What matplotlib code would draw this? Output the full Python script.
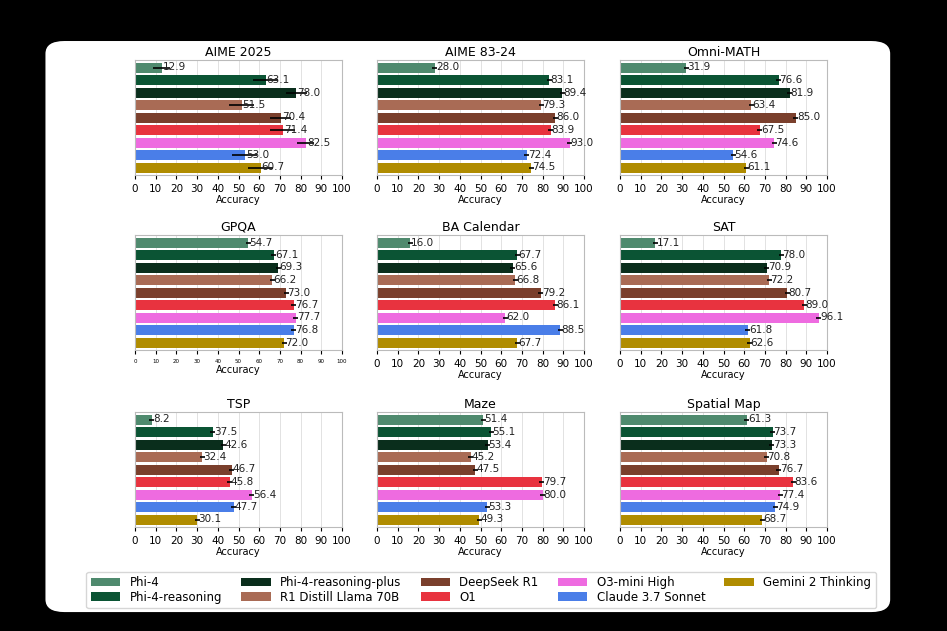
import numpy as np
import matplotlib.pyplot as plt
from matplotlib.patches import FancyBboxPatch, Patch

models = ["Phi-4", "Phi-4-reasoning", "Phi-4-reasoning-plus", "R1 Distill Llama 70B",
          "DeepSeek R1", "O1", "O3-mini High", "Claude 3.7 Sonnet", "Gemini 2 Thinking"]
colors = ["#4f8a6e", "#0b5434", "#0a2e1c", "#a96b55", "#7a3f2c",
          "#e8333f", "#ee6be0", "#4a7ee8", "#b08c00"]

titles = ["AIME 2025", "AIME 83-24", "Omni-MATH", "GPQA", "BA Calendar", "SAT",
          "TSP", "Maze", "Spatial Map"]
aime25 = [12.9, 63.1, 78.0, 51.5, 70.4, 71.4, 82.5, 53.0, 60.7]
aime8324 = [28.0, 83.1, 89.4, 79.3, 86.0, 83.9, 93.0, 72.4, 74.5]
omni = [31.9, 76.6, 81.9, 63.4, 85.0, 67.5, 74.6, 54.6, 61.1]
gpqa = [54.7, 67.1, 69.3, 66.2, 73.0, 76.7, 77.7, 76.8, 72.0]
bacal = [16.0, 67.7, 65.6, 66.8, 79.2, 86.1, 62.0, 88.5, 67.7]
sat = [17.1, 78.0, 70.9, 72.2, 80.7, 89.0, 96.1, 61.8, 62.6]
tsp = [8.2, 37.5, 42.6, 32.4, 46.7, 45.8, 56.4, 47.7, 30.1]
maze = [51.4, 55.1, 53.4, 45.2, 47.5, 79.7, 80.0, 53.3, 49.3]
spatial = [61.3, 73.7, 73.3, 70.8, 76.7, 83.6, 77.4, 74.9, 68.7]
values = [aime25, aime8324, omni, gpqa, bacal, sat, tsp, maze, spatial]

err25 = [4, 6, 5, 6, 5, 6, 4, 6, 6]
err_small = [1.2] * 9

fig = plt.figure(figsize=(9.47, 6.31), dpi=100, facecolor="black")
bg = FancyBboxPatch((0.048, 0.03), 0.892, 0.905, boxstyle="round,pad=0,rounding_size=0.02",
                    transform=fig.transFigure, facecolor="white", edgecolor="none", zorder=-10)
fig.patches.append(bg)

lefts = [135, 377, 620]
tops = [60, 235, 412]
W, H = 207, 115
for i, (t, v) in enumerate(zip(titles, values)):
    r, c = divmod(i, 3)
    ax = fig.add_axes([lefts[c] / 947, 1 - (tops[r] + H) / 631, W / 947, H / 631])
    y = np.arange(len(models))
    err = err25 if i == 0 else err_small
    ax.barh(y, v, color=colors, height=0.8, xerr=err, error_kw=dict(ecolor="black", lw=1.2), zorder=2)
    for yi, vi in zip(y, v):
        ax.text(vi + 0.5, yi, f"{vi:.1f}", va="center", ha="left", fontsize=7.5, color="#222222", zorder=3)
    ax.set_ylim(len(models) - 0.4, -0.6)
    ax.set_xlim(0, 100)
    ax.set_xticks(range(0, 101, 10))
    ax.tick_params(axis="x", labelsize=4 if t == "GPQA" else 7.5, length=3)
    ax.set_yticks([])
    ax.grid(axis="x", color="#dddddd", lw=0.6, zorder=0)
    ax.set_title(t, fontsize=9, pad=3)
    ax.set_xlabel("Accuracy", fontsize=7, labelpad=1)
    for s in ax.spines.values():
        s.set_color("#bbbbbb")

handles = [Patch(facecolor=col, label=m) for m, col in zip(models, colors)]
fig.legend(handles=handles, ncol=5, loc="center", bbox_to_anchor=(0.508, 0.065), fontsize=8.5,
           frameon=True, handlelength=2.5, columnspacing=1.6, labelspacing=0.1, borderpad=0.4)

fig.savefig("out.png", dpi=100, facecolor="black")
